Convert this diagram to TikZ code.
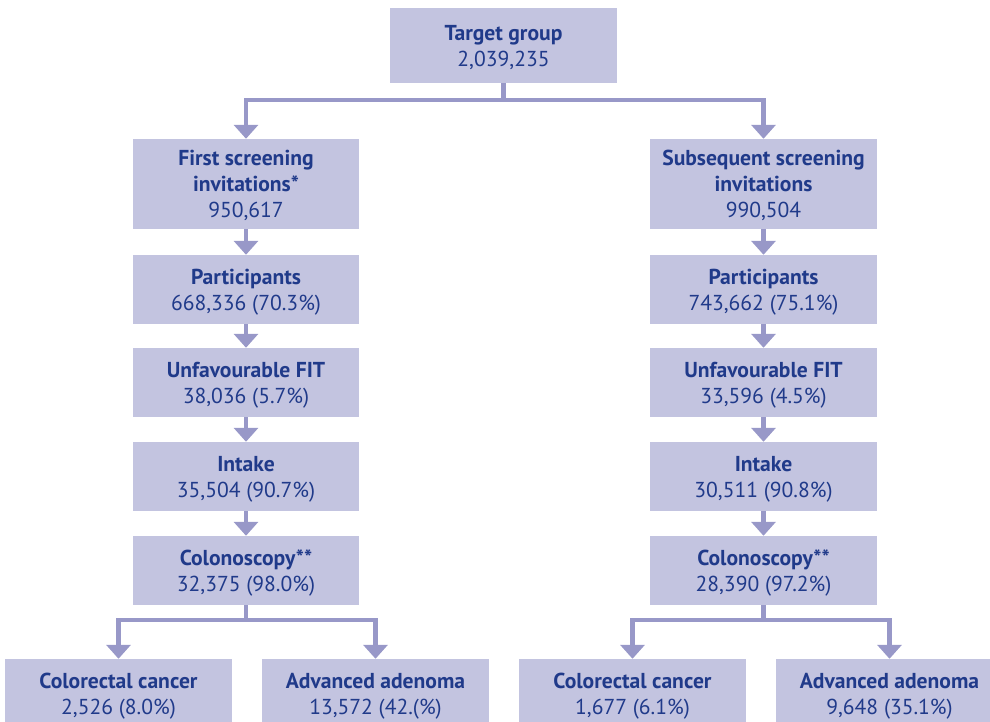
\documentclass[tikz,border=0pt]{standalone}
\usepackage{fontspec}
\setmainfont{PT Sans}
\usetikzlibrary{arrows.meta}
\definecolor{boxfill}{RGB}{195,196,224}
\definecolor{linecol}{RGB}{152,152,200}
\definecolor{txt}{RGB}{32,58,138}
\begin{document}
\begin{tikzpicture}[x=1pt,y=-1pt,
  box/.style={fill=boxfill, text=txt, minimum width=226pt, minimum height=69pt, inner sep=0pt, text depth=0pt, align=center, font=\fontsize{21.6}{26}\selectfont},
  conn/.style={draw=linecol, line width=4.5pt, -{Triangle[width=24pt,length=14pt]}},
  plainline/.style={draw=linecol, line width=4.5pt}]
\useasboundingbox (0,0) rectangle (990,722);
\clip (0,0) rectangle (990,722);
% top
\node[box, minimum height=75pt, minimum width=227pt] (tg) at (503.5,45.5) {\textbf{Target group}\\2,039,235};
% left column
\node[box, minimum height=90pt] (L1) at (246,184) {\textbf{First screening}\\\textbf{invitations*}\\950,617};
\node[box] (L2) at (246,289.5) {\textbf{Participants}\\668,336 (70.3\%)};
\node[box] (L3) at (246,382.5) {\textbf{Unfavourable FIT}\\38,036 (5.7\%)};
\node[box] (L4) at (246,476.5) {\textbf{Intake}\\35,504 (90.7\%)};
\node[box] (L5) at (246,570.5) {\textbf{Colonoscopy**}\\32,375 (98.0\%)};
% right column
\node[box, minimum height=90pt, minimum width=227pt] (R1) at (763.5,184) {\textbf{Subsequent screening}\\\textbf{invitations}\\990,504};
\node[box, minimum width=227pt] (R2) at (763.5,289.5) {\textbf{Participants}\\743,662 (75.1\%)};
\node[box, minimum width=227pt] (R3) at (763.5,382.5) {\textbf{Unfavourable FIT}\\33,596 (4.5\%)};
\node[box, minimum width=227pt] (R4) at (763.5,476.5) {\textbf{Intake}\\30,511 (90.8\%)};
\node[box, minimum width=227pt] (R5) at (763.5,570.5) {\textbf{Colonoscopy**}\\28,390 (97.2\%)};
% bottom row
\node[box, minimum width=227pt] (B1) at (118.5,693.5) {\textbf{Colorectal cancer}\\2,526 (8.0\%)};
\node[box, minimum width=227pt] (B2) at (375.5,693.5) {\textbf{Advanced adenoma}\\13,572 (42.(\%)};
\node[box, minimum width=227pt] (B3) at (632.5,693.5) {\textbf{Colorectal cancer}\\1,677 (6.1\%)};
\node[box, minimum width=227pt] (B4) at (889.5,693.5) {\textbf{Advanced adenoma}\\9,648 (35.1\%)};
% junction levels
\coordinate (tj) at (0,100);
\coordinate (bj) at (0,620);
% connectors
\draw[conn] (tg.south) -- (tg.south |- tj) -| (L1.north);
\draw[conn] (tg.south) -- (tg.south |- tj) -| (R1.north);
\draw[conn] (L1) -- (L2);
\draw[conn] (L2) -- (L3);
\draw[conn] (L3) -- (L4);
\draw[conn] (L4) -- (L5);
\draw[conn] (R1) -- (R2);
\draw[conn] (R2) -- (R3);
\draw[conn] (R3) -- (R4);
\draw[conn] (R4) -- (R5);
\draw[conn] (L5.south) -- (L5.south |- bj) -| (B1.north);
\draw[conn] (L5.south) -- (L5.south |- bj) -| (B2.north);
\draw[conn] (R5.south) -- (R5.south |- bj) -| (B3.north);
\draw[conn] (R5.south) -- (R5.south |- bj) -| (B4.north);
\end{tikzpicture}
\end{document}
